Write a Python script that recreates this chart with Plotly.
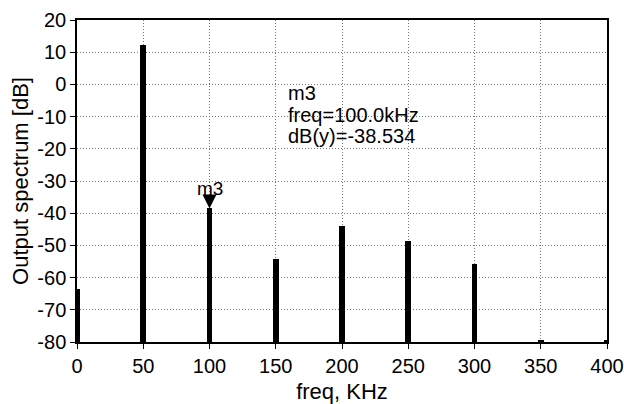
import plotly.graph_objects as go

freq_khz = [0, 50, 100, 150, 200, 250, 300, 350, 400]
spectrum_db = [-63.5, 12.2, -38.534, -54.3, -43.9, -48.5, -55.8, -79.3, -79.3]
base_db = -80
marker_name = "m3"
marker_freq = 100
marker_db = -38.534
readout_lines = ["m3", "freq=100.0kHz", "dB(y)=-38.534"]
x_ticks = [0, 50, 100, 150, 200, 250, 300, 350, 400]
y_ticks = [20, 10, 0, -10, -20, -30, -40, -50, -60, -70, -80]

FONT = "Liberation Sans, Arial, sans-serif"

fig = go.Figure()
fig.add_trace(go.Bar(
    x=freq_khz,
    y=[v - base_db for v in spectrum_db],
    base=base_db,
    width=4.5,
    marker=dict(color="black", line=dict(width=0)),
    showlegend=False,
    hoverinfo="skip",
))
fig.add_annotation(
    x=marker_freq, y=marker_db, xref="x", yref="y",
    text=marker_name, showarrow=True, ax=0, ay=-20,
    arrowhead=2, arrowsize=1.4, arrowwidth=2, arrowcolor="black", standoff=0,
    font=dict(family=FONT, size=19, color="black"),
)
for i, line in enumerate(readout_lines):
    fig.add_annotation(
        x=0.395, y=0.772, xref="paper", yref="paper",
        text=line, showarrow=False, xanchor="left", yanchor="middle",
        yshift=-21.5 * i,
        font=dict(family=FONT, size=20, color="black"),
    )
fig.update_xaxes(
    range=[0, 400], tickvals=x_ticks, ticktext=[str(t) for t in x_ticks],
    showline=True, linecolor="black", linewidth=1.5, mirror=True,
    showgrid=True, gridcolor="#777", griddash="1px,2px", gridwidth=1,
    ticks="outside", ticklen=5, tickcolor="black",
    tickfont=dict(family=FONT, size=20, color="black"),
    title=dict(text="freq, KHz", font=dict(family=FONT, size=22, color="black"), standoff=12),
    zeroline=False, automargin=False,
)
fig.update_yaxes(
    range=[-80, 20], tickvals=y_ticks, ticktext=[str(t) for t in y_ticks],
    showline=True, linecolor="black", linewidth=1.5, mirror=True,
    showgrid=True, gridcolor="#777", griddash="1px,2px", gridwidth=1,
    ticks="outside", ticklen=5, tickcolor="black",
    tickfont=dict(family=FONT, size=20, color="black"),
    title=dict(text="Output spectrum [dB]", font=dict(family=FONT, size=22, color="black"), standoff=3),
    zeroline=False, automargin=False,
)
fig.update_layout(
    width=624, height=404,
    margin=dict(l=77, r=17, t=20, b=62),
    paper_bgcolor="white", plot_bgcolor="white",
    bargap=0,
)
fig.write_html(
    "out.html",
    config={"displayModeBar": False},
    post_script="document.body.style.margin='0px';document.body.style.overflow='hidden';",
)
